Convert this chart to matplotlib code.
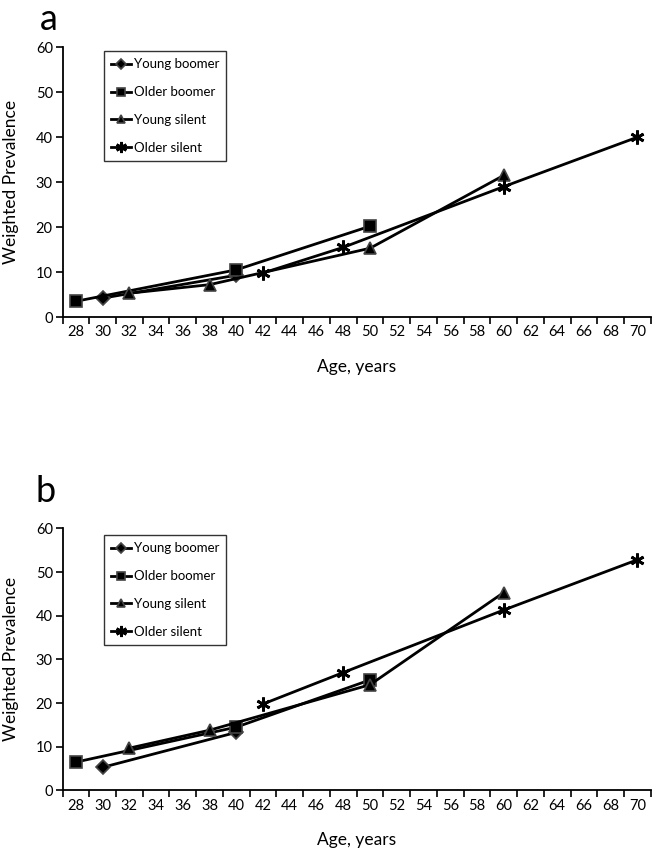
import matplotlib.pyplot as plt
from matplotlib.ticker import FixedLocator, NullFormatter

plt.rcParams['font.family'] = ['Lato', 'DejaVu Sans']

ages_tick = list(range(28, 71, 2))

series_names = ['Young boomer', 'Older boomer', 'Young silent', 'Older silent']
markers = ['D', 's', '^', (6, 2, 0)]
msizes = [7, 8, 8, 10]

# panel a
a_young_boomer_x = [30, 40]
a_young_boomer_y = [4.2, 9.3]
a_older_boomer_x = [28, 40, 50]
a_older_boomer_y = [3.5, 10.5, 20.2]
a_young_silent_x = [32, 38, 50, 60]
a_young_silent_y = [5.3, 7.2, 15.3, 31.5]
a_older_silent_x = [42, 48, 60, 70]
a_older_silent_y = [9.8, 15.5, 29.0, 40.0]

# panel b
b_young_boomer_x = [30, 40]
b_young_boomer_y = [5.3, 13.3]
b_older_boomer_x = [28, 40, 50]
b_older_boomer_y = [6.5, 14.5, 25.3]
b_young_silent_x = [32, 38, 50, 60]
b_young_silent_y = [9.7, 13.8, 24.2, 45.3]
b_older_silent_x = [42, 48, 60, 70]
b_older_silent_y = [19.8, 27.0, 41.3, 52.8]

panels = [
    ('a', [(a_young_boomer_x, a_young_boomer_y), (a_older_boomer_x, a_older_boomer_y),
           (a_young_silent_x, a_young_silent_y), (a_older_silent_x, a_older_silent_y)]),
    ('b', [(b_young_boomer_x, b_young_boomer_y), (b_older_boomer_x, b_older_boomer_y),
           (b_young_silent_x, b_young_silent_y), (b_older_silent_x, b_older_silent_y)]),
]

fig = plt.figure(figsize=(6.54, 8.52), dpi=100)
ax_rects = [[0.0956, 0.6279, 0.8994, 0.3166], [0.0956, 0.0722, 0.8994, 0.3077]]
leg_tops = [0.986, 0.974]
letter_pos = [(0.075, 0.997), (0.070, 0.442)]

for k, (letter, data) in enumerate(panels):
    ax = fig.add_axes(ax_rects[k])
    for (xs, ys), name, m, ms in zip(data, series_names, markers, msizes):
        star = m == (6, 2, 0)
        ax.plot(xs, ys, color='black', lw=2, marker=m, markersize=ms,
                markerfacecolor='black',
                markeredgecolor='black' if star else '#444444',
                markeredgewidth=2.0 if star else 1.2, label=name)
    ax.set_xlim(27, 71)
    ax.set_ylim(0, 60)
    ax.set_yticks(range(0, 61, 10))
    ax.xaxis.set_major_locator(FixedLocator([t - 1 for t in ages_tick] + [71]))
    ax.xaxis.set_major_formatter(NullFormatter())
    ax.xaxis.set_minor_locator(FixedLocator(ages_tick))
    ax.set_xticklabels([str(t) for t in ages_tick], minor=True)
    ax.tick_params(axis='x', which='minor', length=0, pad=6, labelsize=10.5)
    ax.tick_params(axis='x', which='major', length=5, width=1.2, direction='out')
    ax.tick_params(axis='y', length=5, width=1.2, direction='out', labelsize=10.5, pad=2)
    for s in ['top', 'right']:
        ax.spines[s].set_visible(False)
    for s in ['left', 'bottom']:
        ax.spines[s].set_linewidth(1.3)
    ax.set_ylabel('Weighted Prevalence', fontsize=12.5, labelpad=12)
    ax.set_xlabel('Age, years', fontsize=12.5, labelpad=14)
    leg = ax.legend(loc='upper left', bbox_to_anchor=(0.0706, leg_tops[k]),
                    borderaxespad=0, frameon=True, fancybox=False, fontsize=9.5,
                    handlelength=1.5, handletextpad=0.2, labelspacing=1.2,
                    borderpad=0.55, markerscale=0.8)
    leg.get_frame().set_edgecolor('black')
    leg.get_frame().set_linewidth(1.0)
    fig.text(letter_pos[k][0], letter_pos[k][1], letter, fontsize=26,
             ha='center', va='top')

fig.savefig('out.png', dpi=100)
